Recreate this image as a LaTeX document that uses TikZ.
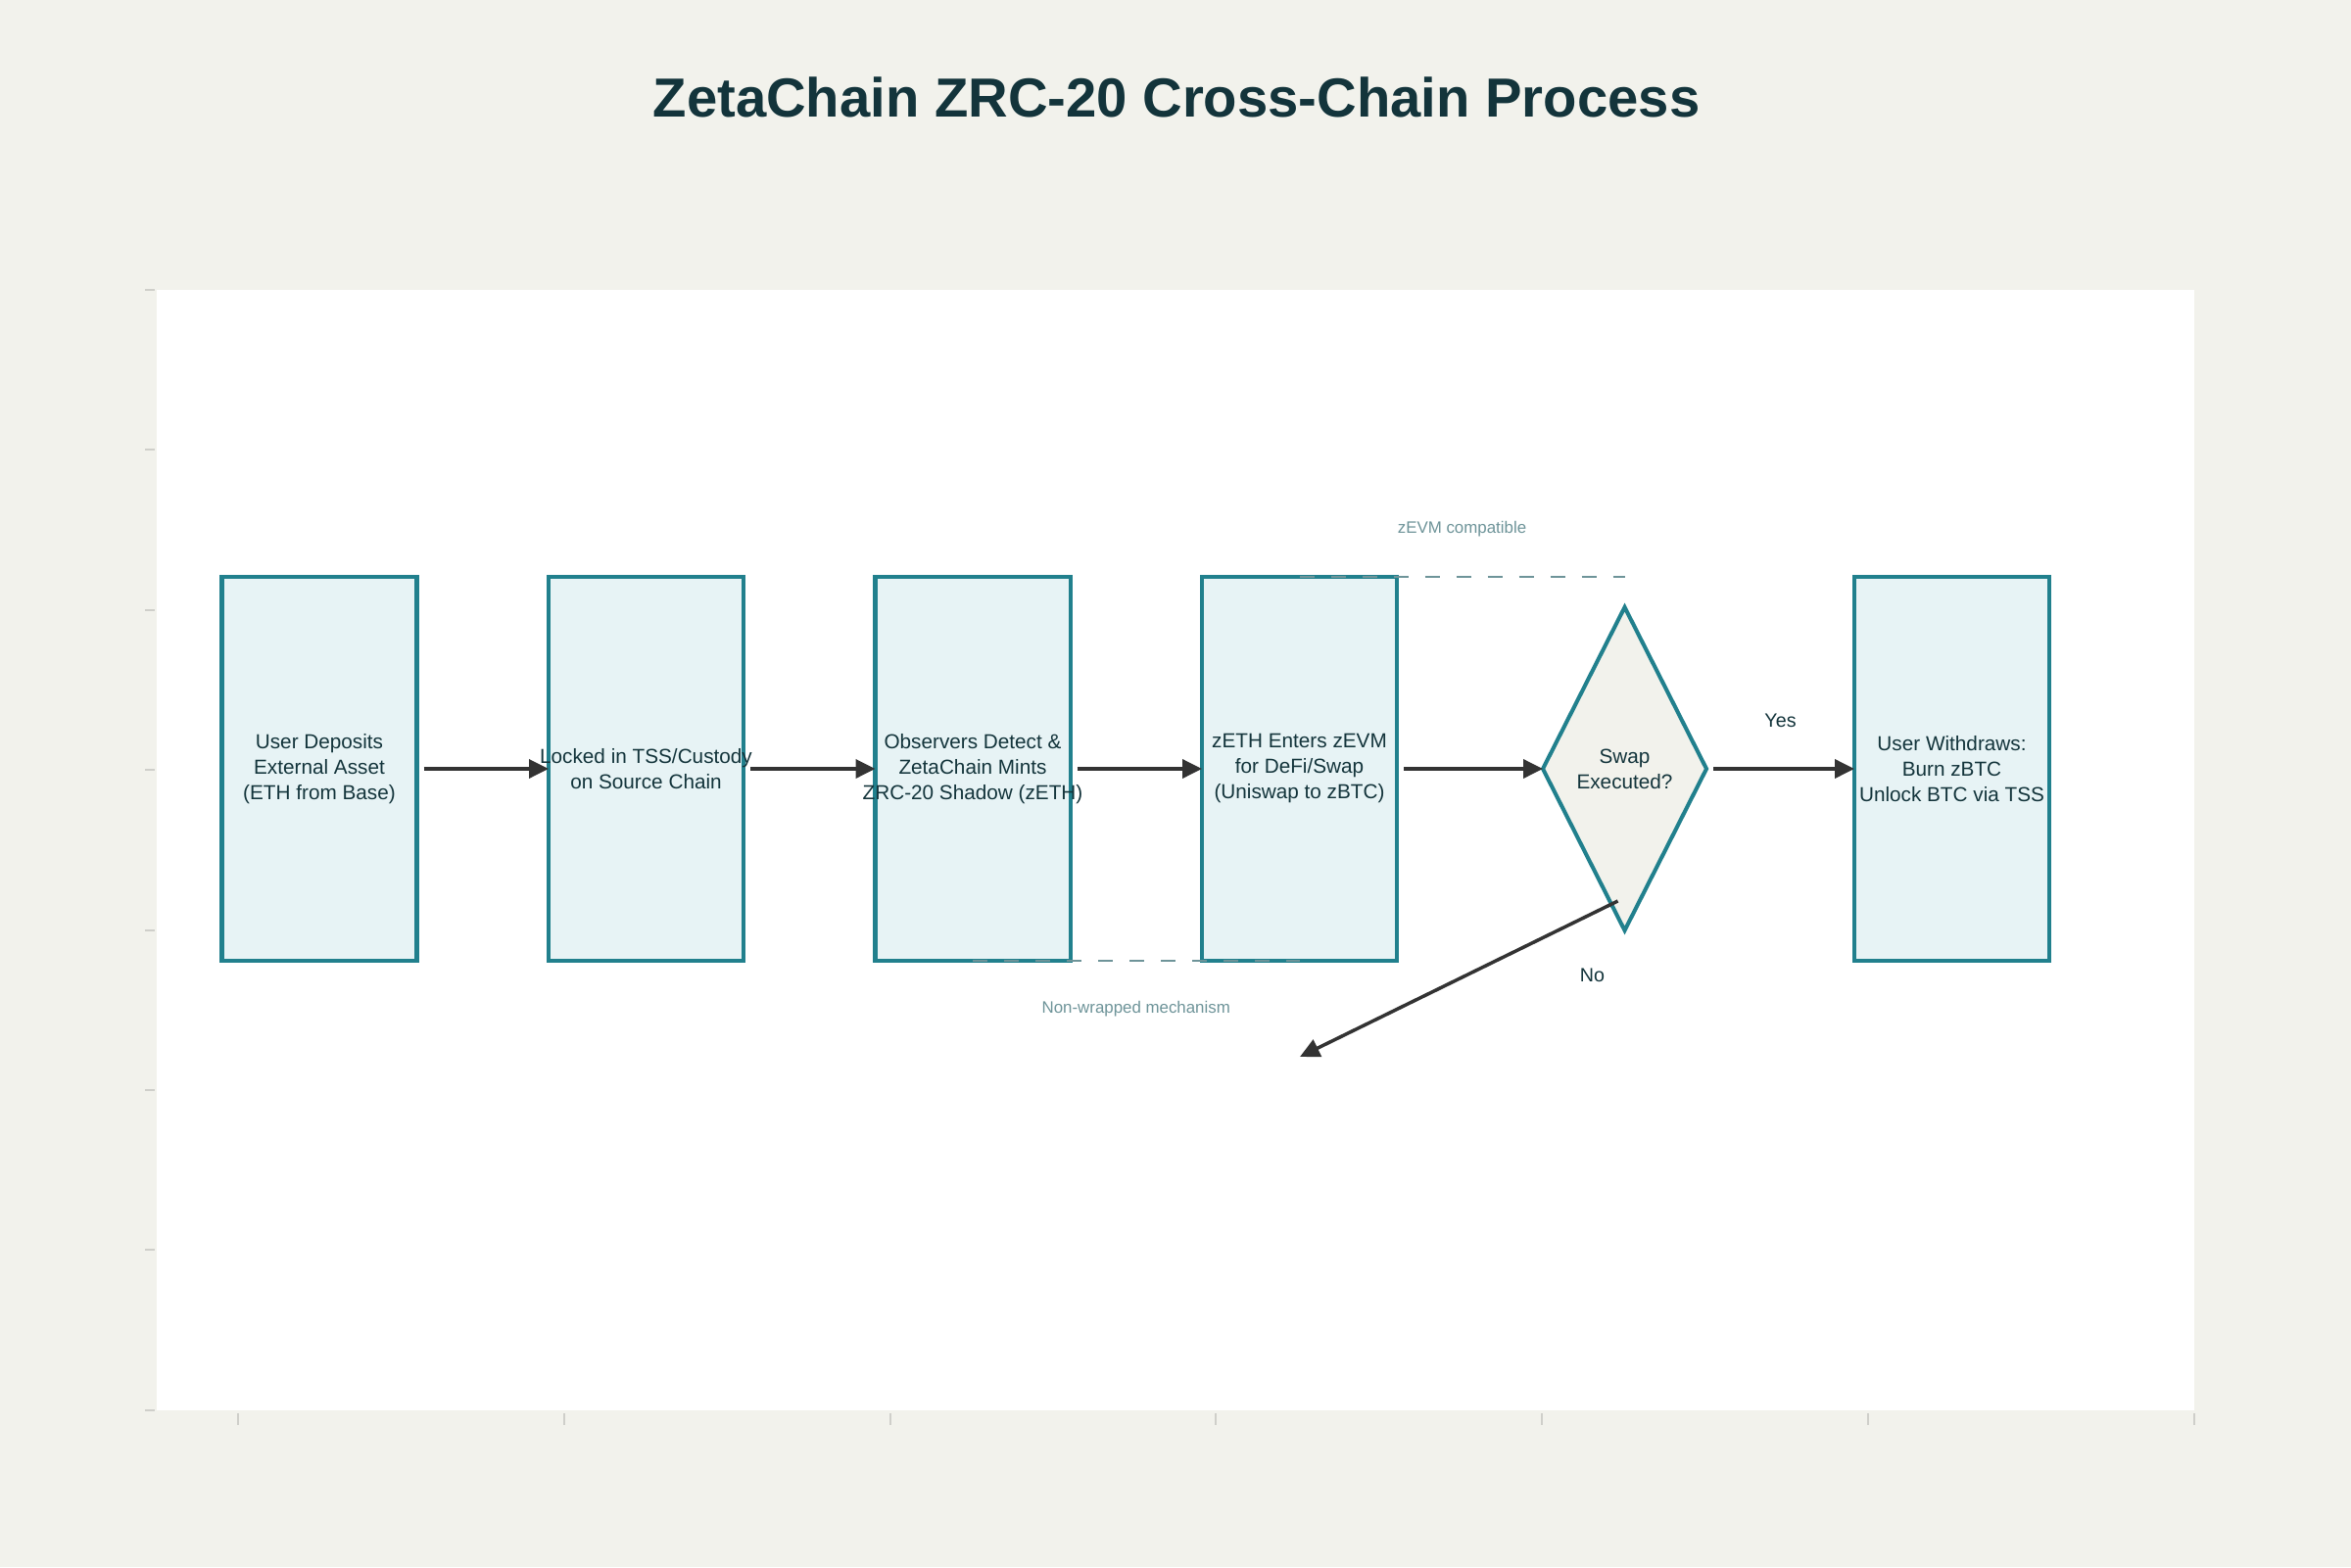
\documentclass[tikz,border=0pt]{standalone}
\usepackage{fontspec}
\setmainfont{Liberation Sans}
\definecolor{zetaBg}{HTML}{F2F2EC}
\definecolor{zetaTeal}{HTML}{21808D}
\definecolor{zetaTealLight}{HTML}{E7F3F5}
\definecolor{zetaInk}{HTML}{13343B}
\definecolor{zetaArrow}{HTML}{333333}
\definecolor{zetaNote}{HTML}{6E9499}
\definecolor{zetaTick}{HTML}{CFCFCA}
\usetikzlibrary{arrows.meta, positioning, shapes.geometric, calc}
\tikzset{
    step node/.style={rectangle, draw=zetaTeal, fill=zetaTealLight, line width=1.15pt, minimum width=1.99cm, minimum height=3.92cm, inner xsep=-0.4cm, inner ysep=0pt, outer sep=0pt, align=center, text=zetaInk, font={\fontsize{5.9}{7.4}\selectfont}},
    decision node/.style={diamond, draw=zetaTeal, fill=zetaBg, line width=1.15pt, minimum width=1.67cm, minimum height=3.3cm, aspect=0.5, inner sep=0pt, outer sep=0pt, align=center, text=zetaInk, font={\fontsize{5.9}{7.4}\selectfont}},
    arrow style/.style={-{Triangle[length=2mm, width=1.9mm]}, line width=1pt, zetaArrow, shorten <=0.07cm},
    note line/.style={zetaNote, line width=0.6pt, dash pattern=on 1.5mm off 1.7mm},
    note label/.style={text=zetaNote, font={\fontsize{4.8}{5.8}\selectfont}},
    edge label/.style={text=zetaInk, font={\fontsize{5.6}{6.6}\selectfont}},
    tick mark/.style={zetaTick, line width=0.6pt},
}

\begin{document}
\begin{tikzpicture}[node distance=1.345cm]
        % Canvas and plot area
        \fill[zetaBg] (0,0) rectangle (24,-16);
        \useasboundingbox (0,0) rectangle (24,-16);
        \fill[white] (1.60,-2.96) rectangle (22.40,-14.40);
        \foreach \k in {0,...,7}
            \draw[tick mark] (1.48,-2.96-1.634*\k) -- (1.58,-2.96-1.634*\k);
        \foreach \k in {0,...,6}
            \draw[tick mark] (2.43+3.328*\k,-14.43) -- ++(0,-0.12);

        % Title
        \node[text=zetaInk, font={\fontsize{16}{19}\selectfont\bfseries}] (title) at (12.01,-0.99) {ZetaChain ZRC-20 Cross-Chain Process};

        % Nodes
        \node[step node] (deposit) at (3.26,-7.85) {User Deposits\\External Asset\\(ETH from Base)};
        \node[step node, right=of deposit] (locked) {Locked in TSS/Custody\\on Source Chain};
        \node[step node, right=of locked] (observe) {Observers Detect \&\\ZetaChain Mints\\ZRC-20 Shadow (zETH)};
        \node[step node, right=of observe] (zevm) {zETH Enters zEVM\\for DeFi/Swap\\(Uniswap to zBTC)};
        \node[decision node, right=1.49cm of zevm] (swap) {Swap\\Executed?};
        \node[step node, right=1.51cm of swap] (withdraw) {User Withdraws:\\Burn zBTC\\Unlock BTC via TSS};

        % Notes
        \draw[note line] (zevm.north) -- (zevm.north -| swap);
        \draw[note line] (observe.south) -- (zevm.south);
        \node[note label] (zevmnote) at ($(zevm.north)!0.5!(zevm.north -| swap)+(0,0.49)$) {zEVM compatible};
        \node[note label] (wrapnote) at ($(observe.south)!0.5!(zevm.south)+(0,-0.49)$) {Non-wrapped mechanism};

        % Arrows
        \draw[arrow style] (deposit) -- (locked);
        \draw[arrow style] (locked) -- (observe);
        \draw[arrow style] (observe) -- (zevm);
        \draw[arrow style] (zevm) -- (swap);
        \draw[arrow style] (swap) -- (withdraw);
        \coordinate (nofrom) at ([xshift=-0.07cm, yshift=0.30cm]swap.south);
        \coordinate (noto) at (13.27,-10.79);
        \draw[arrow style, shorten <=0pt] (nofrom) -- (noto);

        % Branch labels
        \node[edge label] (yes) at ($(swap.east)!0.5!(withdraw.west)+(0,0.49)$) {Yes};
        \node[edge label] (no) at ([xshift=-0.33cm, yshift=-0.46cm]swap.south) {No};
    \end{tikzpicture}
\end{document}
